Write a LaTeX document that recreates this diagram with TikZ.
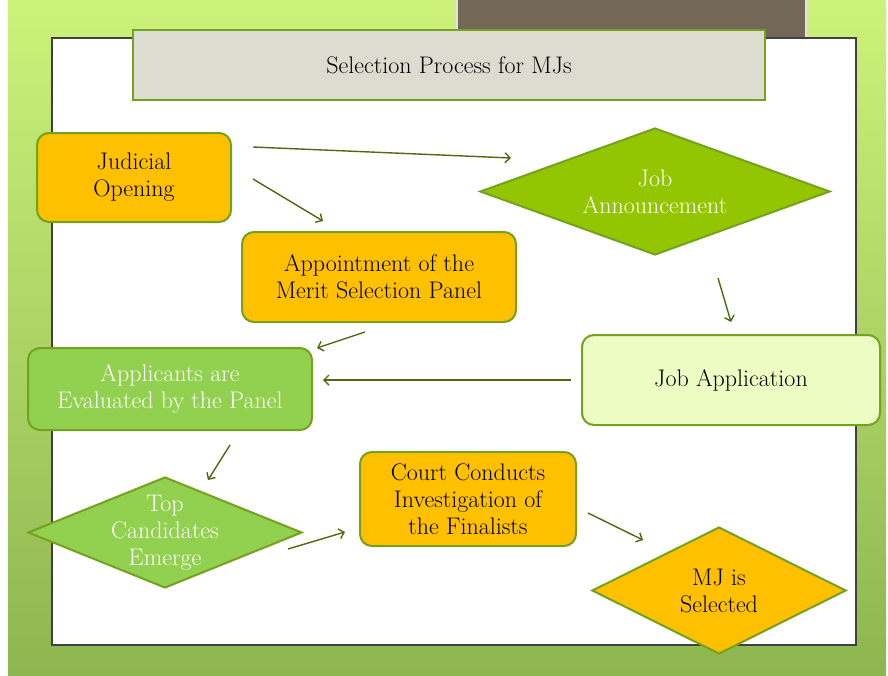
\documentclass[tikz,border=0pt]{standalone}
\usepackage{fontspec}
\usetikzlibrary{shapes.geometric,arrows.meta}
\definecolor{amber}{HTML}{FFC000}
\definecolor{leaf}{HTML}{93C600}
\definecolor{grass}{HTML}{92D050}
\definecolor{pale}{HTML}{EDFCC2}
\definecolor{edge}{HTML}{74A11E}
\definecolor{flowc}{HTML}{4F6A12}
\definecolor{titlec}{HTML}{DCDCD0}
\definecolor{bark}{HTML}{736858}
\definecolor{bgtop}{HTML}{CCF27A}
\definecolor{bgbot}{HTML}{8DB650}
\newcommand\mjfont{\fontsize{24}{27}\selectfont}
\tikzset{
  box/.style={draw=edge,line width=2pt,rounded corners=12pt,align=center,font=\mjfont,inner sep=2pt},
  diam/.style={diamond,draw=edge,line width=2pt,align=center,font=\mjfont,inner sep=-9pt},
  flow/.style={draw=flowc,line width=1.4pt,-{Straight Barb[length=5pt,width=10pt]}}
}
\begin{document}
\begin{tikzpicture}[x=1pt,y=-1pt]
\useasboundingbox (0,0) rectangle (888,675);
% background
\fill[white] (0,0) rectangle (888,675);
\shade[top color=bgtop,bottom color=bgbot] (8,0) rectangle (886,675);
\draw[bark!20!white,line width=2.5pt,fill=bark] (457,-3) rectangle (806,66);
\draw[black!75,line width=1.5pt,fill=white] (52,38) rectangle (856,645);
\node[draw=edge,line width=2pt,fill=titlec,minimum width=632,minimum height=70,font=\fontsize{24}{27}\selectfont] (title) at (449,65) {Selection Process for MJs};
% steps
\node[box,fill=amber,minimum width=194,minimum height=89] (judicial) at (134,177.5) {Judicial\\Opening};
\node[box,fill=amber,minimum width=274,minimum height=90] (panel) at (379,277) {Appointment of the\\Merit Selection Panel};
\node[diam,fill=leaf,text=white,aspect=2.75,minimum width=350,minimum height=127] (announce) at (655,191.5) {Job\\Announcement};
\node[box,fill=pale,minimum width=298,minimum height=90] (application) at (731,380) {Job Application};
\node[box,fill=grass,text=white,minimum width=284,minimum height=82] (evaluated) at (170,389) {Applicants are\\Evaluated by the Panel};
\node[diam,fill=grass,text=white,aspect=2.47,minimum width=274,minimum height=111] (top) at (165,532.5) {Top\\Candidates\\Emerge};
\node[box,fill=amber,minimum width=216,minimum height=94] (court) at (468,499) {Court Conducts\\Investigation of\\the Finalists};
\node[diam,fill=amber,aspect=2,minimum width=254,minimum height=127] (selected) at (719,590.5) {MJ is\\Selected};
% arrows
\draw[flow] ([shift={(21,-30.5)}]judicial.east) -- ([shift={(32,-33.5)}]announce.west);
\draw[flow] ([shift={(21,1.5)}]judicial.east) -- ([shift={(-56,-10)}]panel.north);
\draw[flow] ([shift={(63,22)}]announce.south) -- ([shift={(0,-12)}]application.north);
\draw[flow] ([shift={(-10,0)}]application.west) -- ([shift={(10,-9)}]evaluated.east);
\draw[flow] ([shift={(-14,9)}]panel.south) -- ([shift={(4,1)}]evaluated.north east);
\draw[flow] ([shift={(60,14)}]evaluated.south) -- ([shift={(43,4)}]top.north);
\draw[flow] ([shift={(-15,16.5)}]top.east) -- ([shift={(-14,33)}]court.west);
\draw[flow] ([shift={(11,14)}]court.east) -- ([shift={(-76,14)}]selected.north);
\end{tikzpicture}
\end{document}
